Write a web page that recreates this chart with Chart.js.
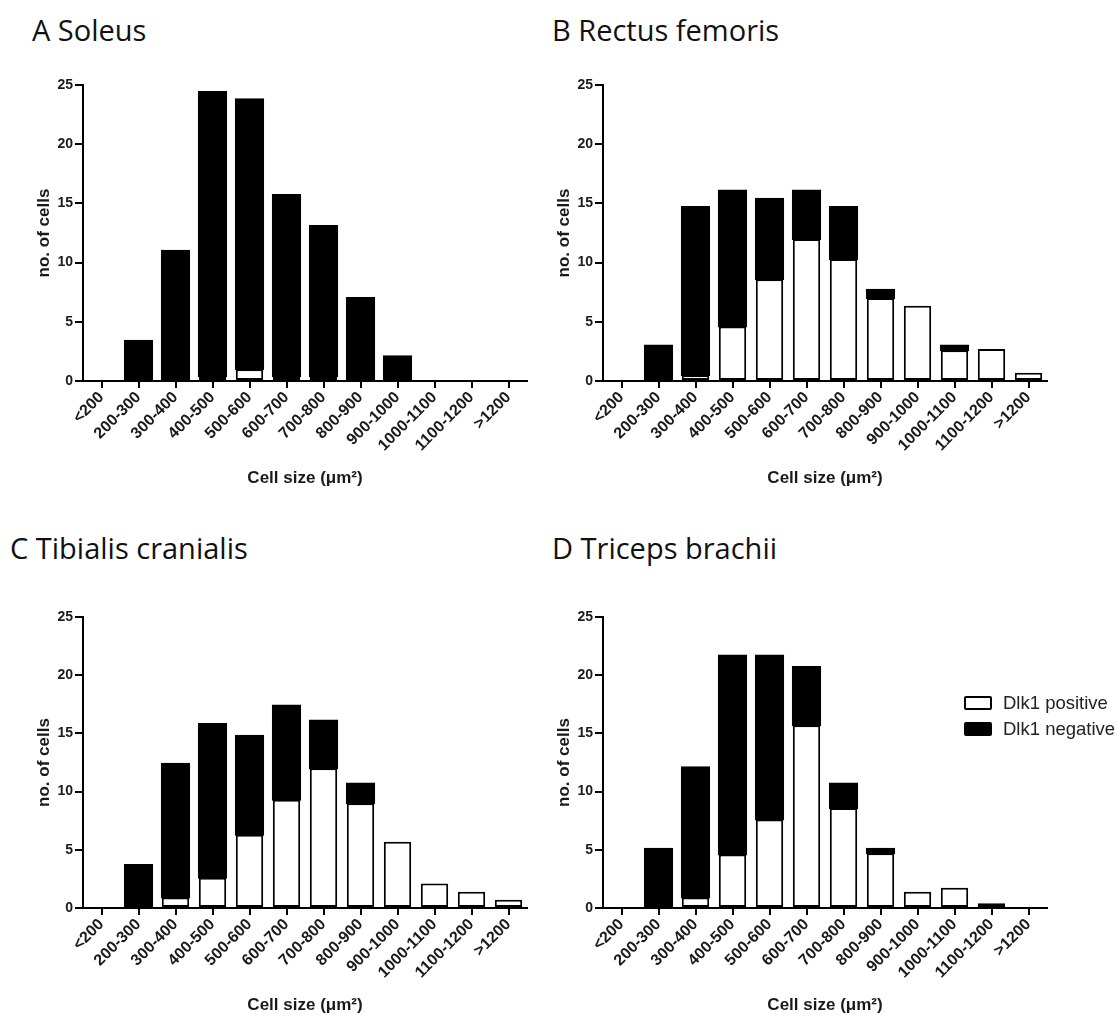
<!DOCTYPE html>
<html>
<head>
<meta charset="utf-8">
<script src="https://cdn.jsdelivr.net/npm/chart.js@4.4.1/dist/chart.umd.min.js"></script>
<style>
    body { margin: 0; background: #fff; width: 1117px; height: 1022px; position: relative; overflow: hidden; }
    canvas { position: absolute; }
    .titulo { position: absolute; font-family: 'Open Sans', sans-serif; font-size: 29px; color: #111; white-space: nowrap; line-height: 1; }
    .legenda { position: absolute; left: 964px; top: 690px; font-family: 'Liberation Sans', Arial, sans-serif; font-size: 18.5px; color: #222; }
    .legenda div { height: 26px; display: flex; align-items: center; white-space: nowrap; }
    .legenda span.caixa { display: inline-block; box-sizing: border-box; width: 28px; height: 14px; border: 2px solid #000; border-radius: 2px; margin-right: 11px; }
</style>
</head>
<body>
<div class="titulo" style="left:32px; top:15px;">A Soleus</div>
<div class="titulo" style="left:552px; top:15px;">B Rectus femoris</div>
<div class="titulo" style="left:10px; top:533px;">C Tibialis cranialis</div>
<div class="titulo" style="left:552px; top:533px;">D Triceps brachii</div>

<canvas id="grafico-a" width="540" height="440" style="left:0; top:55px;"></canvas>
<canvas id="grafico-b" width="577" height="440" style="left:540px; top:55px;"></canvas>
<canvas id="grafico-c" width="540" height="435" style="left:0; top:587px;"></canvas>
<canvas id="grafico-d" width="577" height="435" style="left:540px; top:587px;"></canvas>

<div class="legenda">
    <div><span class="caixa" style="background:#fff"></span>Dlk1 positive</div>
    <div><span class="caixa" style="background:#000"></span>Dlk1 negative</div>
</div>

<script>
const faixas = ['<200', '200-300', '300-400', '400-500', '500-600', '600-700', '700-800', '800-900', '900-1000', '1000-1100', '1100-1200', '>1200'];

// Dlk1 positivo (branco, embaixo) e negativo (preto, em cima)
const soleusPositivo = [0, 0, 0, 0.4, 1.0, 0.4, 0.4, 0, 0, 0, 0, 0];
const soleusNegativo = [0, 3.4, 11, 24.0, 22.8, 15.3, 12.7, 7, 2.1, 0, 0, 0];

const rectusPositivo = [0, 0, 0.5, 4.6, 8.6, 12.0, 10.3, 7.0, 6.35, 2.6, 2.7, 0.7];
const rectusNegativo = [0, 3, 14.2, 11.5, 6.8, 4.1, 4.4, 0.7, 0, 0.4, 0, 0];

const tibialisPositivo = [0, 0, 0.9, 2.6, 6.3, 9.3, 12.0, 9.0, 5.7, 2.1, 1.4, 0.7];
const tibialisNegativo = [0, 3.7, 11.5, 13.2, 8.5, 8.1, 4.1, 1.7, 0, 0, 0, 0];

const tricepsPositivo = [0, 0, 0.9, 4.6, 7.6, 15.7, 8.6, 4.7, 1.4, 1.75, 0.4, 0];
const tricepsNegativo = [0, 5.1, 11.2, 17.1, 14.1, 5.0, 2.1, 0.4, 0, 0, 0, 0];

const marcasY = [0, 5, 10, 15, 20, 25];

const graficos = {};

Chart.defaults.font.family = "'Liberation Sans', Arial, sans-serif";
Chart.defaults.color = '#1a1a1a';

// barras com valor zero nao devem desenhar borda
function larguraBorda(contextoBarra) {
    return contextoBarra.raw ? 2 : 0;
}

// a barra preta cobre 1px da borda da branca, para nao aparecer linha dupla
function inflarNegativo(contextoBarra) {
    return contextoBarra.raw ? 1 : 0;
}

function criarHistograma(elementoId, positivos, negativos, larguraEixoY, recuoTituloY) {
    const contexto = document.getElementById(elementoId);

    graficos[elementoId] = new Chart(contexto, {
        type: 'bar',
        data: {
            labels: faixas,
            datasets: [{
                label: 'Dlk1 positive',
                data: positivos,
                backgroundColor: '#fff',
                borderColor: '#000',
                borderWidth: larguraBorda,
                borderSkipped: false,
                inflateAmount: 0
            }, {
                label: 'Dlk1 negative',
                data: negativos,
                backgroundColor: '#000',
                borderColor: '#000',
                borderWidth: larguraBorda,
                borderSkipped: false,
                inflateAmount: inflarNegativo
            }]
        },
        options: {
            responsive: false,
            animation: false,
            layout: {
                padding: { left: 0, top: 30, right: contexto.width - 444 - larguraEixoY, bottom: 4 }
            },
            datasets: {
                bar: { categoryPercentage: 1, barPercentage: 0.74 }
            },
            plugins: {
                legend: { display: false },
                tooltip: { enabled: false }
            },
            scales: {
                x: {
                    stacked: true,
                    afterFit(eixo) { eixo.height = 110; },
                    border: { display: true, color: '#000', width: 2 },
                    grid: { display: true, drawOnChartArea: false, offset: false, tickLength: 7, color: '#000', lineWidth: 2 },
                    ticks: { minRotation: 45, maxRotation: 45, autoSkip: false, padding: 0, color: '#1a1a1a', font: { size: 16, weight: 'bold' } },
                    title: { display: true, text: 'Cell size (μm²)', color: '#1a1a1a', font: { size: 17, weight: 'bold' }, padding: { top: 0, bottom: 2 } }
                },
                y: {
                    stacked: true,
                    min: 0,
                    max: 25,
                    afterFit(eixo) { eixo.width = larguraEixoY; },
                    afterBuildTicks(eixo) { eixo.ticks = marcasY.map(valor => ({ value: valor })); },
                    border: { display: true, color: '#000', width: 2 },
                    grid: { display: true, drawOnChartArea: false, tickLength: 8, color: '#000', lineWidth: 2 },
                    ticks: { padding: 2, color: '#1a1a1a', font: { size: 14, weight: 'bold' } },
                    title: { display: true, text: 'no. of cells', color: '#1a1a1a', font: { size: 17, weight: 'bold' }, padding: { top: recuoTituloY, bottom: 0 } }
                }
            }
        }
    });
}

criarHistograma('grafico-a', soleusPositivo, soleusNegativo, 83, 34);
criarHistograma('grafico-b', rectusPositivo, rectusNegativo, 63, 14);
criarHistograma('grafico-c', tibialisPositivo, tibialisNegativo, 83, 34);
criarHistograma('grafico-d', tricepsPositivo, tricepsNegativo, 63, 14);
</script>
</body>
</html>
